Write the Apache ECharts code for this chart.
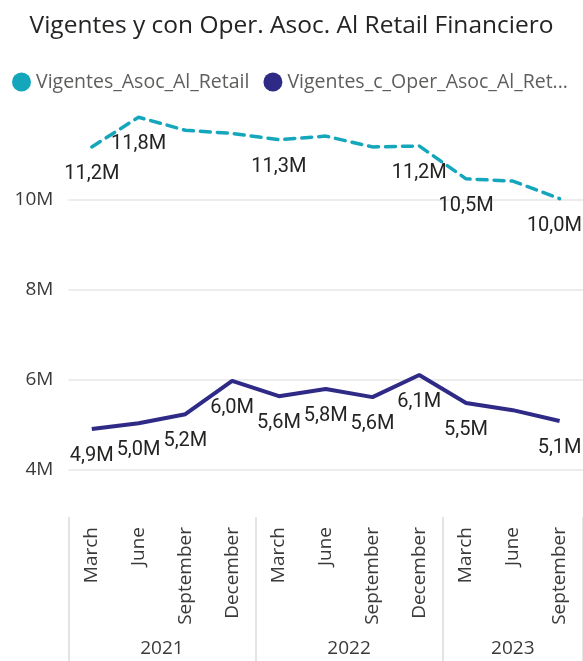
<!DOCTYPE html>
<html>
<head>
<meta charset="utf-8">
<script src="https://cdn.jsdelivr.net/npm/echarts@6/dist/echarts.min.js"></script>
<style>
  html, body { margin: 0; padding: 0; background: #fff; }
  #chart { width: 583px; height: 661px; }
</style>
</head>
<body>
<div id="chart"></div>
<script>
const months = ['March', 'June', 'September', 'December', 'March', 'June', 'September', 'December', 'March', 'June', 'September']
const years = ['2021', '2022', '2023']
const quartersPerYear = [4, 4, 3]
const retail = [11180000, 11840000, 11550000, 11480000, 11340000, 11420000, 11180000, 11200000, 10470000, 10420000, 10030000]
const operRetail = [4910000, 5040000, 5240000, 5980000, 5640000, 5800000, 5620000, 6110000, 5490000, 5330000, 5090000]
// only these points carry a data label in the original
const retailLabelIdx = [0, 1, 4, 7, 8, 10]
const operLabelIdx = [0, 1, 2, 3, 4, 5, 6, 7, 8, 10]

const W = 583
const plotLeft = 68.4
const plotWidth = 520.3

// centre of each year block, in quarter units
const yearCenters = []
let acc = 0
quartersPerYear.forEach((n) => {
  yearCenters.push(acc + n / 2)
  acc += n
})

function fmtM(v) {
  return (v / 1e6).toFixed(1).replace('.', ',') + 'M'
}

// power bi pushes the last labels back inside the visual
function keepInside(params) {
  const r = params.labelRect
  if (r.x + r.width > W - 1) {
    return { x: W - 1, align: 'right' }
  }
}

const labelFont = {
  fontFamily: 'Roboto',
  fontSize: 20,
  color: '#252423'
}

const chart = echarts.init(document.getElementById('chart'), null, { renderer: 'canvas' })
chart.setOption({
  animation: false,
  title: {
    text: 'Vigentes y con Oper. Asoc. Al Retail Financiero',
    left: 'center',
    top: 14,
    padding: 0,
    textStyle: {
      fontFamily: 'Open Sans',
      fontWeight: 'normal',
      fontSize: 24.5,
      color: '#252423'
    }
  },
  legend: {
    left: 12,
    top: 72,
    padding: 0,
    icon: 'circle',
    itemWidth: 19,
    itemHeight: 19,
    itemGap: 14,
    textStyle: {
      fontFamily: 'Open Sans',
      fontSize: 19.5,
      color: '#605E5C',
      width: 284,
      overflow: 'truncate',
      ellipsis: '...'
    }
  },
  grid: [
    { left: plotLeft, width: plotWidth, top: 110, height: 360 },
    { left: plotLeft, width: plotWidth, top: 517, bottom: 0 }
  ],
  xAxis: [
    {
      type: 'category',
      gridIndex: 0,
      data: months,
      axisLine: { show: false },
      axisTick: { show: false },
      axisLabel: {
        interval: 0,
        rotate: 90,
        margin: 57,
        fontFamily: 'Open Sans',
        fontSize: 19,
        color: '#3b3a39'
      }
    },
    {
      type: 'value',
      gridIndex: 1,
      min: 0,
      max: months.length,
      interval: 4,
      axisLine: { show: false },
      axisTick: { show: false },
      splitLine: { show: true, lineStyle: { color: '#e4e4e4', width: 2 } },
      axisLabel: {
        customValues: yearCenters,
        inside: true,
        margin: 3,
        fontFamily: 'Open Sans',
        fontSize: 19,
        color: '#3b3a39',
        formatter: (v) => years[yearCenters.indexOf(v)]
      }
    }
  ],
  yAxis: [
    {
      type: 'value',
      gridIndex: 0,
      min: 4000000,
      max: 12000000,
      interval: 2000000,
      axisLine: { show: false },
      axisTick: { show: false },
      axisLabel: {
        showMaxLabel: false,
        margin: 15,
        fontFamily: 'Open Sans',
        fontSize: 19,
        color: '#3b3a39',
        formatter: (v) => v / 1e6 + 'M'
      },
      splitLine: {
        lineStyle: {
          color: ['#e6e6e6', '#e6e6e6', '#e6e6e6', '#e6e6e6', 'rgba(0,0,0,0)'],
          width: 1.5
        }
      }
    },
    { type: 'value', gridIndex: 1, show: false }
  ],
  series: [
    {
      name: 'Vigentes_Asoc_Al_Retail',
      type: 'line',
      xAxisIndex: 0,
      yAxisIndex: 0,
      data: retail,
      color: '#14A7BC',
      symbol: 'circle',
      symbolSize: 0,
      lineStyle: { width: 3.5, type: [10, 7], cap: 'round' },
      label: {
        show: true,
        position: 'bottom',
        distance: 17,
        ...labelFont,
        formatter: (p) => (retailLabelIdx.includes(p.dataIndex) ? fmtM(p.value) : '')
      },
      labelLayout: keepInside
    },
    {
      name: 'Vigentes_c_Oper_Asoc_Al_Retail',
      type: 'line',
      xAxisIndex: 0,
      yAxisIndex: 0,
      data: operRetail,
      color: '#2F2A86',
      symbol: 'circle',
      symbolSize: 0,
      lineStyle: { width: 4 },
      label: {
        show: true,
        position: 'bottom',
        distance: 17,
        ...labelFont,
        formatter: (p) => (operLabelIdx.includes(p.dataIndex) ? fmtM(p.value) : '')
      },
      labelLayout: keepInside
    }
  ]
})
</script>
</body>
</html>
